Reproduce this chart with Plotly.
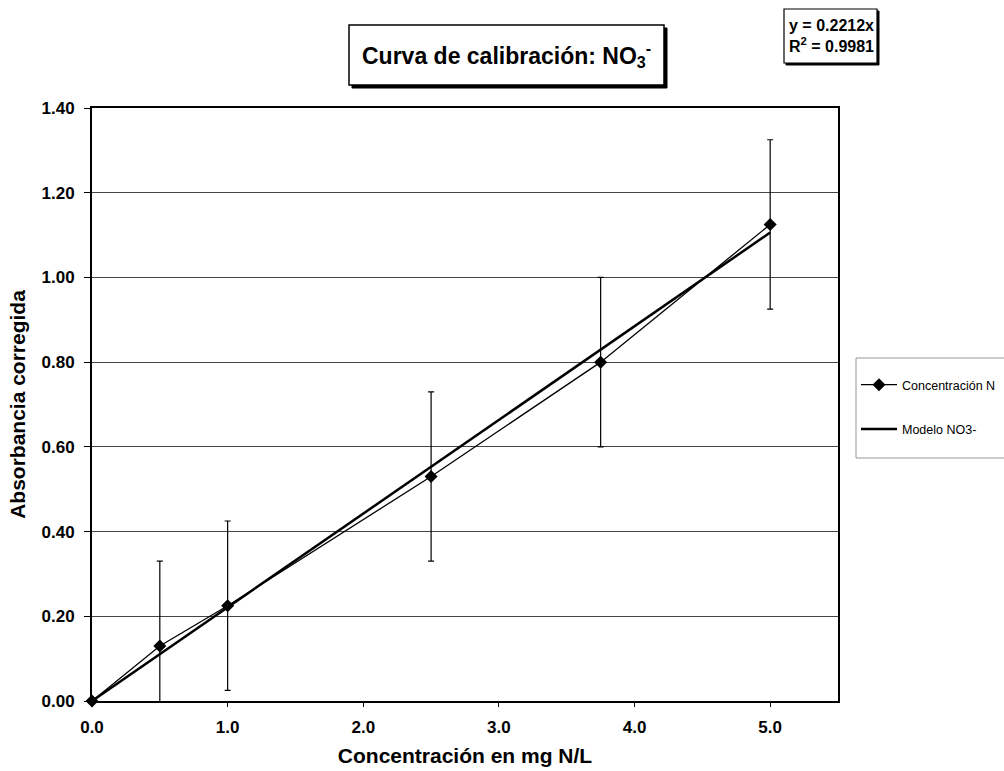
import plotly.graph_objects as go

# Data
conc_x = [0.0, 0.5, 1.0, 2.5, 3.75, 5.0]
absorb_y = [0.0, 0.13, 0.225, 0.53, 0.80, 1.125]
err_y = [0.0, 0.2, 0.2, 0.2, 0.2, 0.2]
model_x = [0.0, 5.0]
model_y = [0.0, 1.106]
x_ticks = [0, 1, 2, 3, 4, 5]
y_ticks = [0.0, 0.2, 0.4, 0.6, 0.8, 1.0, 1.2, 1.4]

FONT = "Arial, 'Liberation Sans', sans-serif"
L, R, T, B = 92, 166, 108, 70
PW, PH = 1004 - L - R, 771 - T - B


def px(x):
    return (x - L) / PW


def py(y):
    return (771 - B - y) / PH


fig = go.Figure()

# error bars (clipped to plot area)
fig.add_trace(go.Scatter(
    x=conc_x, y=absorb_y, mode="markers",
    marker=dict(size=1, color="rgba(0,0,0,0)"),
    error_y=dict(type="data", array=err_y, visible=True, color="black",
                 thickness=1.2, width=3),
    showlegend=False, hoverinfo="skip", cliponaxis=True))

fig.add_trace(go.Scatter(
    x=model_x, y=model_y, mode="lines", name="Modelo NO3-",
    line=dict(color="black", width=2.5),
    legendgroup="b", legendrank=2, cliponaxis=False))

fig.add_trace(go.Scatter(
    x=conc_x, y=absorb_y, mode="lines+markers", name="Concentración N",
    line=dict(color="black", width=1.3),
    marker=dict(symbol="diamond", size=10, color="black"),
    legendgroup="a", legendrank=1, cliponaxis=False))

fig.update_layout(
    width=1004, height=771,
    margin=dict(l=L, r=R, t=T, b=B, autoexpand=False),
    paper_bgcolor="white", plot_bgcolor="white",
    font=dict(family=FONT, color="black"),
    showlegend=True,
    legend=dict(x=px(856), y=py(370), xanchor="left", yanchor="top",
                borderwidth=0, bgcolor="rgba(0,0,0,0)",
                font=dict(size=12.5, family=FONT), tracegroupgap=25,
                itemwidth=36),
    xaxis=dict(range=[0, 5.5], tickvals=x_ticks,
               ticktext=[f"{v:.1f}" for v in x_ticks],
               showgrid=False, zeroline=False,
               showline=True, linecolor="black", linewidth=2, mirror=True,
               ticks="outside", ticklen=4, tickcolor="black",
               ticklabelstandoff=6,
               tickfont=dict(size=17, family=FONT, weight="bold"),
               title=dict(text="<b>Concentración en mg N/L</b>",
                          font=dict(size=21, family=FONT), standoff=12)),
    yaxis=dict(range=[0, 1.4], tickvals=y_ticks,
               ticktext=[f"{v:.2f}" for v in y_ticks],
               showgrid=True, gridcolor="#444444", gridwidth=1, zeroline=False,
               showline=True, linecolor="black", linewidth=2, mirror=True,
               ticks="outside", ticklen=6, tickcolor="black",
               ticklabelstandoff=6,
               tickfont=dict(size=17, family=FONT, weight="bold"),
               title=dict(text="<b>Absorbancia corregida</b>",
                          font=dict(size=21, family=FONT), standoff=10)),
)

# legend frame
fig.add_shape(type="rect", xref="paper", yref="paper",
              x0=px(856), x1=px(1010), y0=py(458), y1=py(358),
              line=dict(color="#999999", width=1), fillcolor="rgba(0,0,0,0)",
              layer="below")

# title box with drop shadow
fig.add_shape(type="rect", xref="paper", yref="paper",
              x0=px(352), x1=px(667), y0=py(88), y1=py(28),
              line=dict(color="black", width=1), fillcolor="black", layer="above")
fig.add_shape(type="rect", xref="paper", yref="paper",
              x0=px(349), x1=px(664), y0=py(85), y1=py(25),
              line=dict(color="black", width=1.5), fillcolor="white", layer="above")

# equation box with drop shadow
fig.add_shape(type="rect", xref="paper", yref="paper",
              x0=px(786), x1=px(879), y0=py(65), y1=py(11),
              line=dict(color="black", width=1), fillcolor="black", layer="above")
fig.add_shape(type="rect", xref="paper", yref="paper",
              x0=px(784), x1=px(877), y0=py(63), y1=py(9),
              line=dict(color="black", width=1.2), fillcolor="white", layer="above")

title_text = "<b>Curva de calibración: NO<sub>3</sub><sup>-</sup></b>"
eq_text = "<b>y = 0.2212x</b><br><b>R<sup>2</sup> = 0.9981</b>"

fig.add_annotation(
    xref="paper", yref="paper", x=px(506), y=py(55),
    xanchor="center", yanchor="middle", showarrow=False,
    text=title_text, font=dict(size=23, family=FONT, color="black"))

fig.add_annotation(
    xref="paper", yref="paper", x=px(787), y=py(36),
    xanchor="left", yanchor="middle", showarrow=False, align="left",
    text=eq_text, font=dict(size=16, family=FONT, color="black"))

fig.write_html("out.html")
